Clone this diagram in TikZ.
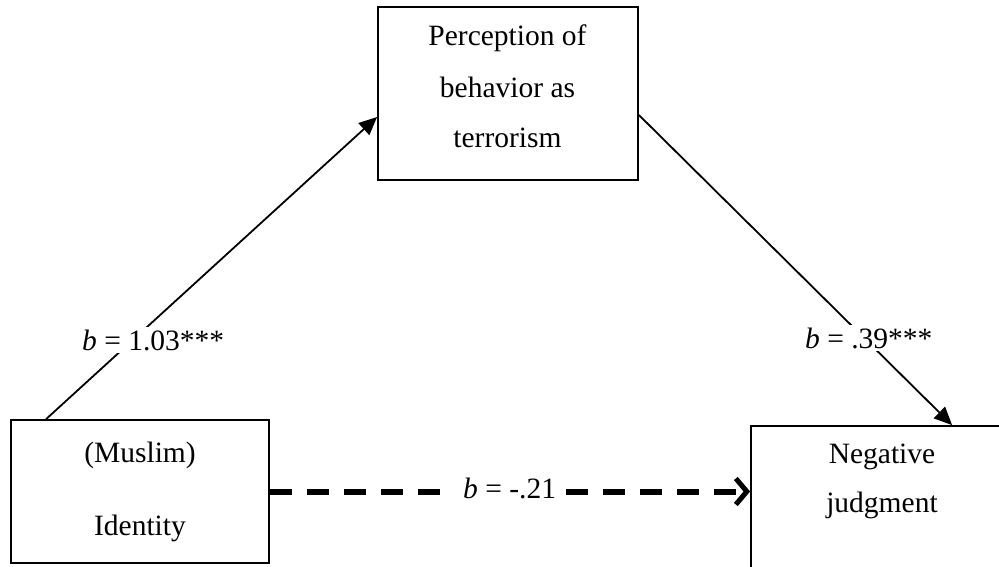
\documentclass[tikz,border=0pt]{standalone}
\usepackage{fontspec}
\setmainfont{Liberation Serif}
\usetikzlibrary{arrows.meta}
\begin{document}
\begin{tikzpicture}[x=1pt,y=-1pt,
  box/.style={draw, line width=1.8pt, rectangle, inner sep=0pt},
  txt/.style={font=\fontsize{29.5}{36}\selectfont, inner sep=0pt, anchor=base},
  lab/.style={font=\fontsize{29.5}{36}\selectfont, inner sep=3pt, fill=white, anchor=base west},
  conn/.style={line width=1.8pt, -{Triangle[length=18pt,width=16pt]}},
  dashconn/.style={line width=6pt, dash pattern=on 22pt off 15pt, -{Straight Barb[length=11pt,width=26pt,line width=5pt]}}
]
\clip (0,0) rectangle (999,566);
\fill[white] (0,0) rectangle (999,566);

% boxes
\node[box, minimum width=260pt, minimum height=173pt] (med) at (508,93.5) {};
\node[box, minimum width=258pt, minimum height=143pt] (iv) at (140,491.5) {};
\node[box, minimum width=262pt, minimum height=220pt] (dv) at (882,536) {};

% box texts
\node[txt] (t1) at (507.5,45) {Perception of};
\node[txt] (t2) at (507.5,97) {behavior as};
\node[txt] (t3) at (507.5,147) {terrorism};
\node[txt] (t4) at (140,462) {(Muslim)};
\node[txt] (t5) at (140,535) {Identity};
\node[txt] (t6) at (882,463) {Negative};
\node[txt] (t7) at (882,512) {judgment};

% connectors
\draw[conn] ([xshift=36pt]iv.north west) -- ([yshift=-23.5pt]med.west);
\draw[conn] ([yshift=-21.5pt]med.east) -- ([xshift=202pt]dv.north west);
\draw[dashconn] (iv.east) -- (iv.east -| dv.west);

% labels
\node[lab] (l1) at (79,350) {\textit{b} = 1.03***};
\node[lab] (l2) at (802,348) {\textit{b} = .39***};
\node[lab, inner xsep=8pt] (l3) at (455,498) {\textit{b} = -.21};
\end{tikzpicture}
\end{document}
